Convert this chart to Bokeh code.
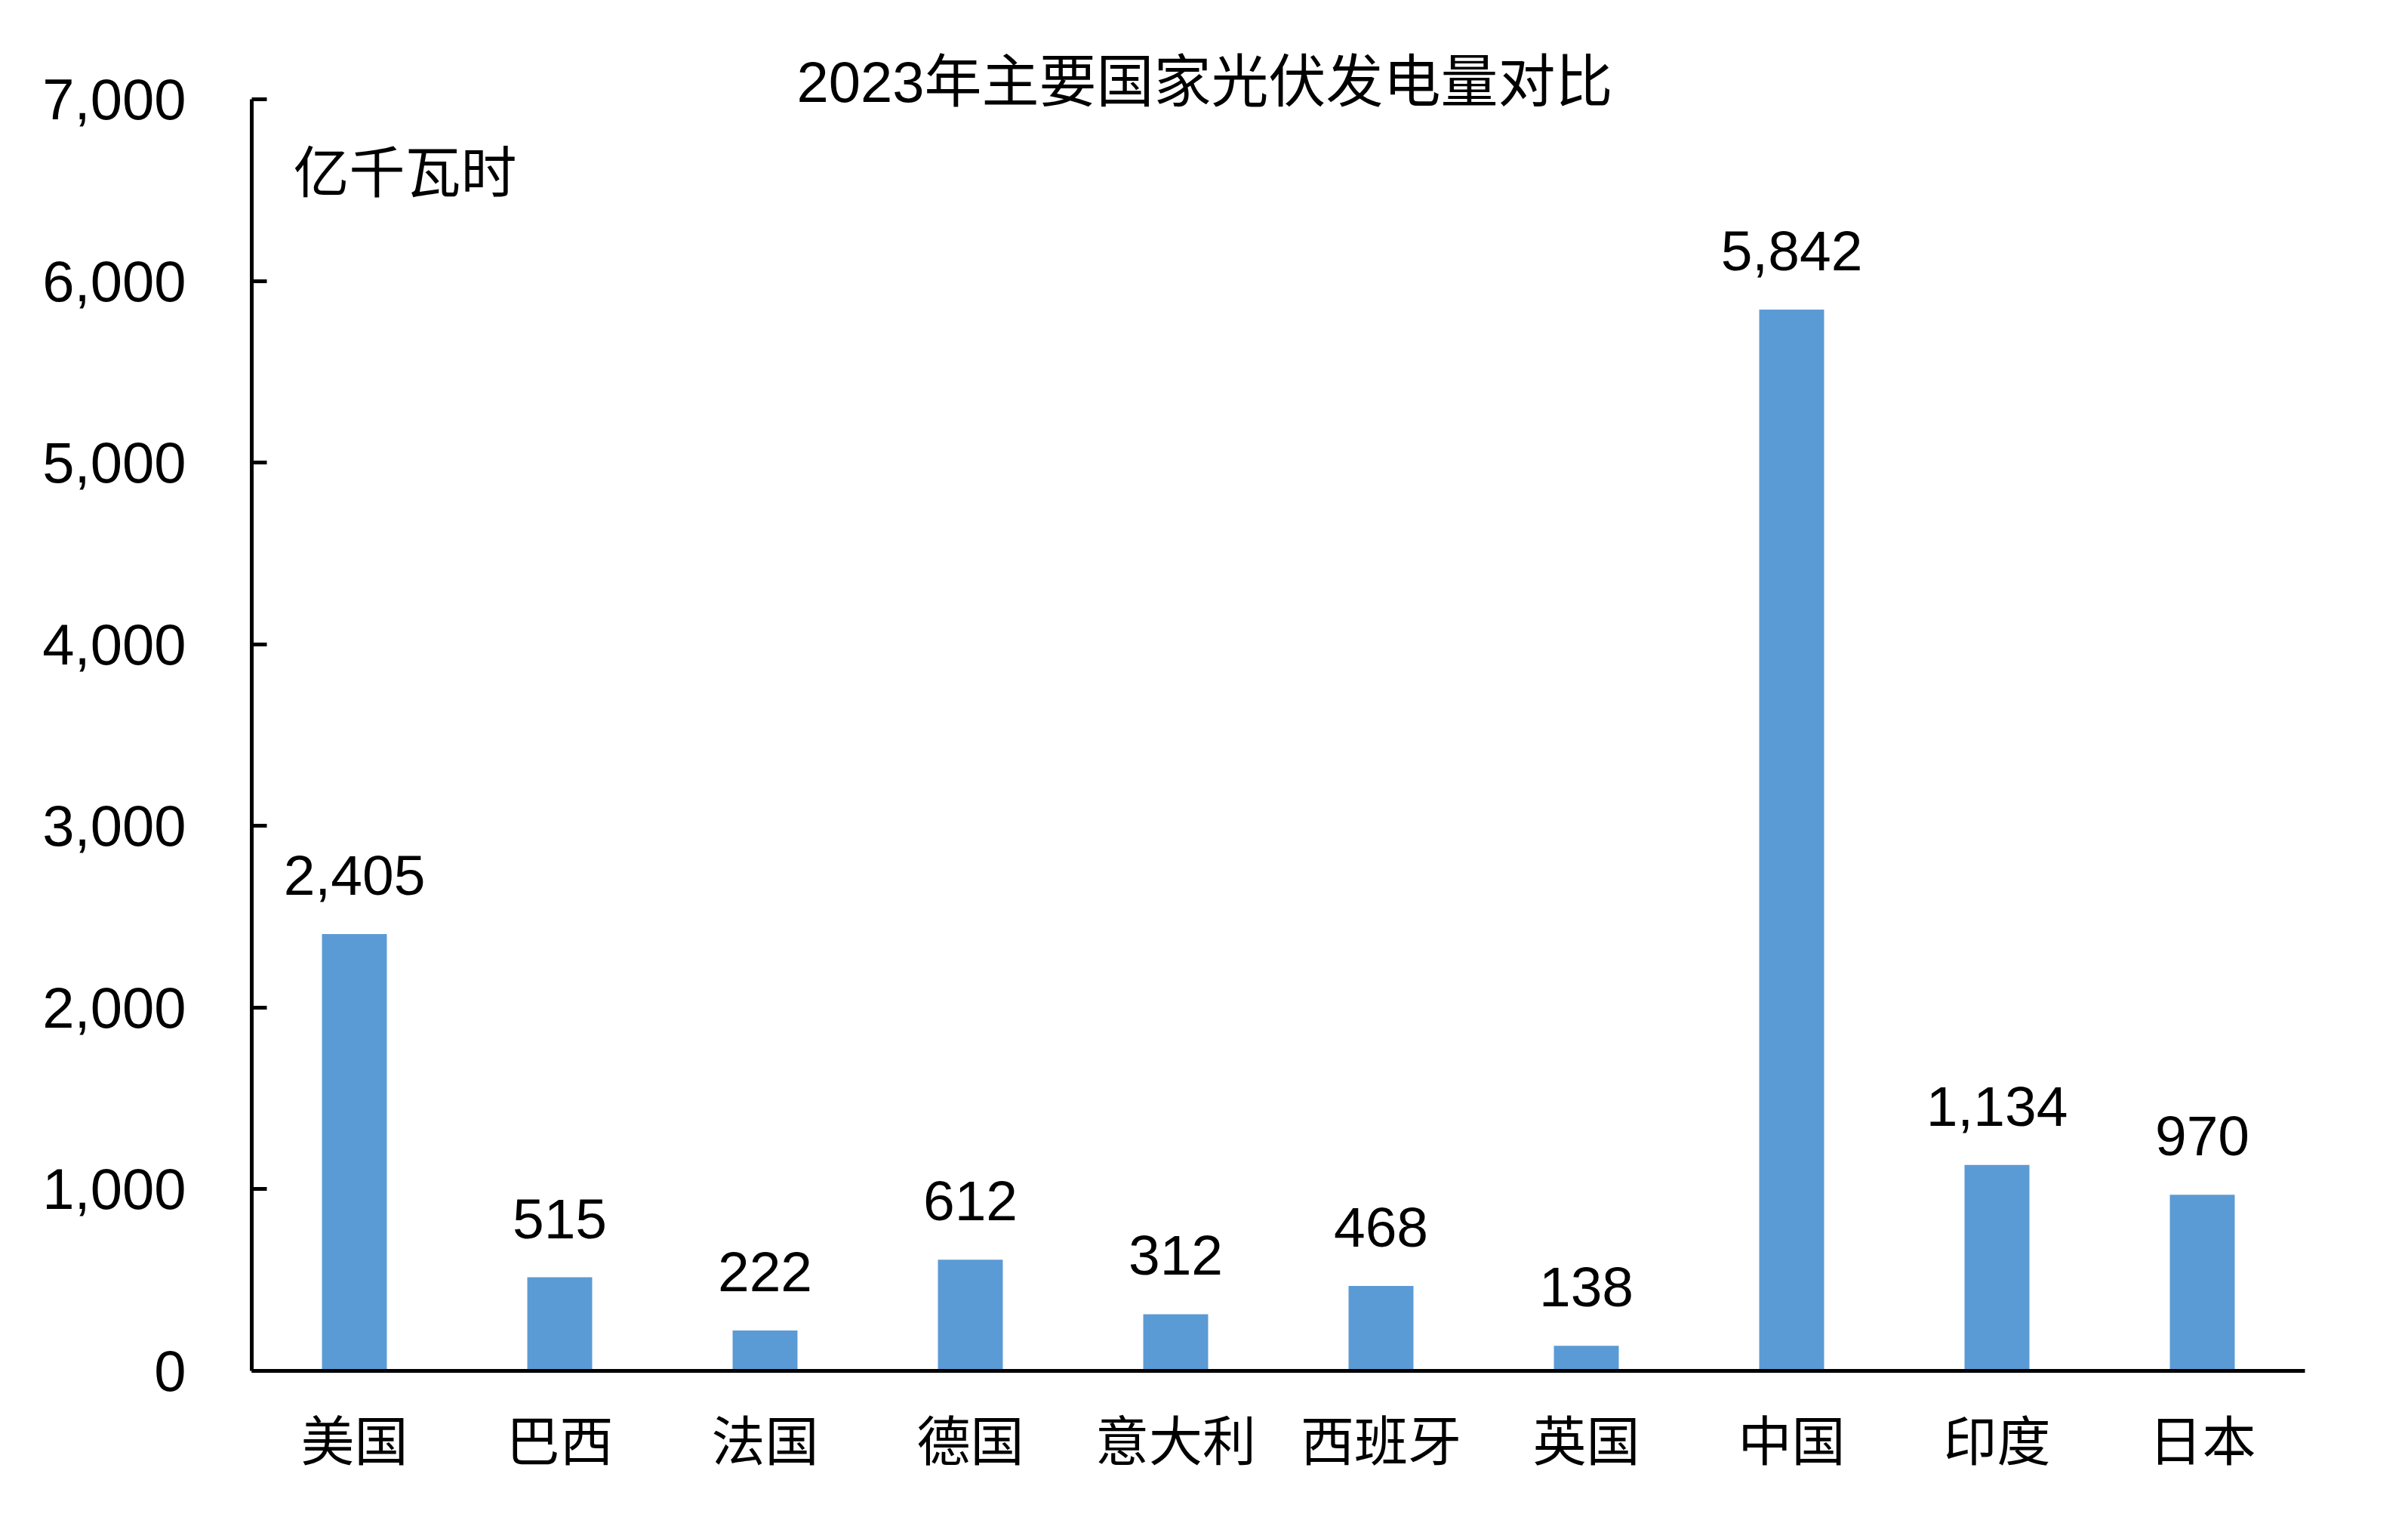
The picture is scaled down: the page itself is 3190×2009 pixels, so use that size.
from bokeh.plotting import figure
from bokeh.models import ColumnDataSource, FactorRange, Range1d, FixedTicker, NumeralTickFormatter, LabelSet, Label, Title
from bokeh.core.properties import value
from bokeh.embed import file_html
from bokeh.resources import INLINE

categories = ["美国", "巴西", "法国", "德国", "意大利", "西班牙", "英国", "中国", "印度", "日本"]
values = [2405, 515, 222, 612, 312, 468, 138, 5842, 1134, 970]
value_labels = ["2,405", "515", "222", "612", "312", "468", "138", "5,842", "1,134", "970"]
y_ticks = [0, 1000, 2000, 3000, 4000, 5000, 6000, 7000]
title_text = "2023年主要国家光伏发电量对比"
unit_text = "亿千瓦时"

LATIN = "Liberation Sans, Noto Sans CJK SC"
CJK = "Noto Sans CJK SC"
BAR_COLOR = "#5B9BD5"

source = ColumnDataSource(dict(cat=categories, val=values, lab=value_labels))

p = figure(
    width=3174, height=1993,
    x_range=FactorRange(factors=categories, range_padding=0),
    y_range=Range1d(0, 7000),
    output_backend="svg", toolbar_location=None, title=None,
    min_border_left=333, min_border_right=121, min_border_top=131, min_border_bottom=178,
)
p.outline_line_color = None
p.xgrid.grid_line_color = None
p.ygrid.grid_line_color = None
p.background_fill_color = "white"
p.border_fill_color = "white"

p.vbar(x="cat", top="val", width=0.316, source=source, fill_color=BAR_COLOR, line_color=None)

labels = LabelSet(x="cat", y="val", text="lab", source=source, text_align="center",
                  text_baseline="alphabetic", y_offset=52, text_font_size=value("75px"),
                  text_font=value("Liberation Sans"), text_color="black")
p.add_layout(labels)

# axes
p.yaxis.ticker = FixedTicker(ticks=y_ticks)
p.yaxis.formatter = NumeralTickFormatter(format="0,0")
p.yaxis.axis_line_width = 5
p.yaxis.axis_line_color = "black"
p.yaxis.major_tick_in = 20
p.yaxis.major_tick_out = 0
p.yaxis.major_tick_line_width = 5
p.yaxis.minor_tick_line_color = None
p.yaxis.major_label_text_font = LATIN
p.yaxis.major_label_text_font_size = "76px"
p.yaxis.major_label_text_color = "black"
p.yaxis.major_label_standoff = 87

p.xaxis.axis_line_width = 5
p.xaxis.axis_line_color = "black"
p.xaxis.major_tick_in = 0
p.xaxis.major_tick_out = 0
p.xaxis.major_tick_line_color = None
p.xaxis.minor_tick_line_color = None
p.xaxis.major_label_text_font = CJK
p.xaxis.major_label_text_font_size = "71px"
p.xaxis.major_label_text_color = "black"
p.xaxis.major_label_standoff = 36

title = Title(text=title_text, align="left", offset=722, standoff=-38,
              text_font=LATIN, text_font_size="76px", text_font_style="normal",
              text_color="black")
p.add_layout(title, "above")

unit = Label(x=55, y=1593, x_units="screen", y_units="screen", text=unit_text,
             text_align="left", text_baseline="middle", text_font=CJK,
             text_font_size="74px", text_color="black")
p.add_layout(unit)

open("out.html", "w").write(file_html(p, INLINE))
